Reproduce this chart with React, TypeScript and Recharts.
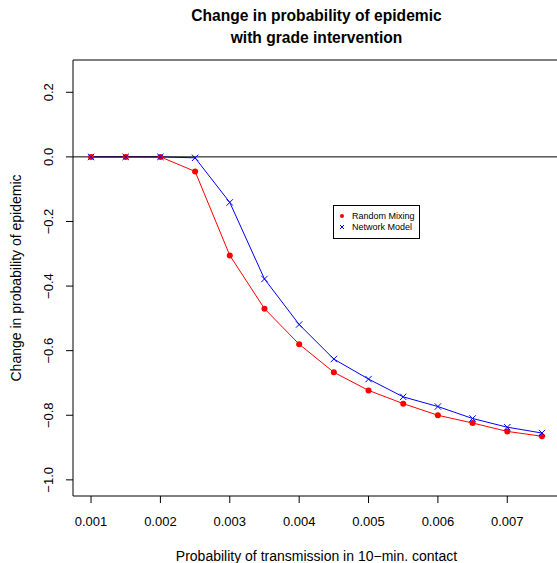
import { LineChart, Line, XAxis, YAxis, ReferenceLine, ReferenceArea, Legend } from 'recharts'

// transmission probability per 10-min contact
const probs = [0.001, 0.0015, 0.002, 0.0025, 0.003, 0.0035, 0.004, 0.0045, 0.005, 0.0055, 0.006, 0.0065, 0.007, 0.0075]
const randomMixing = [0, 0, 0, -0.045, -0.305, -0.47, -0.58, -0.667, -0.723, -0.764, -0.8, -0.824, -0.85, -0.865]
const networkModel = [0, 0, 0, -0.003, -0.141, -0.378, -0.519, -0.626, -0.688, -0.743, -0.773, -0.81, -0.837, -0.855]

const xTicks = [0.001, 0.002, 0.003, 0.004, 0.005, 0.006, 0.007]
const yTicks = [-1.0, -0.8, -0.6, -0.4, -0.2, 0.0, 0.2]
const X_DOMAIN: [number, number] = [0.00074, 0.00776]
const Y_DOMAIN: [number, number] = [-1.05, 0.3]

const FONT = '"Liberation Sans", Arial, Helvetica, sans-serif'
const RED = '#ff0000'
const BLUE = '#0000ff'

const data = probs.map((p, i) => ({ p, random: randomMixing[i], network: networkModel[i] }))

const fmtNum = (v: number, d: number) => {
  const s = Math.abs(v).toFixed(d)
  return v < -1e-9 ? `\u2212${s}` : s
}

function XTick(props: any) {
  const { x, payload } = props
  return (
    <text x={x} y={526} textAnchor="middle" fontSize={13} fontFamily={FONT} fill="#000">
      {fmtNum(payload.value, 3)}
    </text>
  )
}

function YTick(props: any) {
  const { y, payload } = props
  return (
    <text x={53} y={y} transform={`rotate(-90, 53, ${y})`} textAnchor="middle" fontSize={13} fontFamily={FONT} fill="#000">
      {fmtNum(payload.value, 1)}
    </text>
  )
}

function Cross(props: any) {
  const { cx, cy } = props
  if (cx == null || cy == null) return null
  const s = 3.2
  return (
    <g stroke={BLUE} strokeWidth={1}>
      <line x1={cx - s} y1={cy - s} x2={cx + s} y2={cy + s} />
      <line x1={cx - s} y1={cy + s} x2={cx + s} y2={cy - s} />
    </g>
  )
}

function LegendBox() {
  return (
    <svg width={88} height={35} style={{ display: 'block' }}>
      <rect x={0.5} y={0.5} width={86} height={33} fill="#fff" stroke="#000" strokeWidth={1} />
      <circle cx={9} cy={11} r={2} fill={RED} />
      <text x={19} y={14} fontSize={9} fontFamily={FONT} fill="#000">Random Mixing</text>
      <g stroke={BLUE} strokeWidth={1}>
        <line x1={7} y1={20} x2={11} y2={24} />
        <line x1={7} y1={24} x2={11} y2={20} />
      </g>
      <text x={19} y={25} fontSize={9} fontFamily={FONT} fill="#000">Network Model</text>
    </svg>
  )
}

export default function App() {
  return (
    <div style={{ position: 'absolute', left: 0, top: 0, width: 557, height: 563, overflow: 'hidden', background: '#fff' }}>
      <LineChart width={565} height={563} data={data} margin={{ top: 60, right: 5, left: 0, bottom: 0 }}>
        <XAxis
          dataKey="p"
          type="number"
          domain={X_DOMAIN}
          ticks={xTicks}
          allowDataOverflow
          height={67}
          axisLine={false}
          tickLine={{ stroke: '#000' }}
          tickSize={7}
          tick={<XTick />}
        />
        <YAxis
          type="number"
          domain={Y_DOMAIN}
          ticks={yTicks}
          allowDataOverflow
          width={73}
          axisLine={false}
          tickLine={{ stroke: '#000' }}
          tickSize={7}
          tick={<YTick />}
        />
        <ReferenceArea x1={X_DOMAIN[0]} x2={X_DOMAIN[1]} y1={Y_DOMAIN[0]} y2={Y_DOMAIN[1]} fill="none" stroke="#000" strokeWidth={1} fillOpacity={0} />
        <Line dataKey="random" name="Random Mixing" stroke={RED} strokeWidth={1} dot={{ r: 3, fill: RED, stroke: 'none' }} isAnimationActive={false} />
        <Line dataKey="network" name="Network Model" stroke={BLUE} strokeWidth={1} dot={<Cross />} isAnimationActive={false} />
        <ReferenceLine y={0} stroke="#000" strokeWidth={1} />
        <Legend
          layout="horizontal"
          verticalAlign="middle"
          content={() => <LegendBox />}
          wrapperStyle={{ position: 'absolute', left: 333, top: 205, width: 88, height: 35 }}
        />
      </LineChart>
      <svg width={557} height={563} style={{ position: 'absolute', left: 0, top: 0, pointerEvents: 'none' }}>
        <text x={316.5} y={21} textAnchor="middle" fontSize={15.6} fontWeight="bold" fontFamily={FONT} fill="#000">
          Change in probability of epidemic
        </text>
        <text x={316.5} y={43} textAnchor="middle" fontSize={15.6} fontWeight="bold" fontFamily={FONT} fill="#000">
          with grade intervention
        </text>
        <text x={316.5} y={560.5} textAnchor="middle" fontSize={14} fontFamily={FONT} fill="#000">
          Probability of transmission in 10{'\u2212'}min. contact
        </text>
        <text x={20.5} y={278} transform="rotate(-90, 20.5, 278)" textAnchor="middle" fontSize={14} fontFamily={FONT} fill="#000">
          Change in probability of epidemic
        </text>
      </svg>
    </div>
  )
}
